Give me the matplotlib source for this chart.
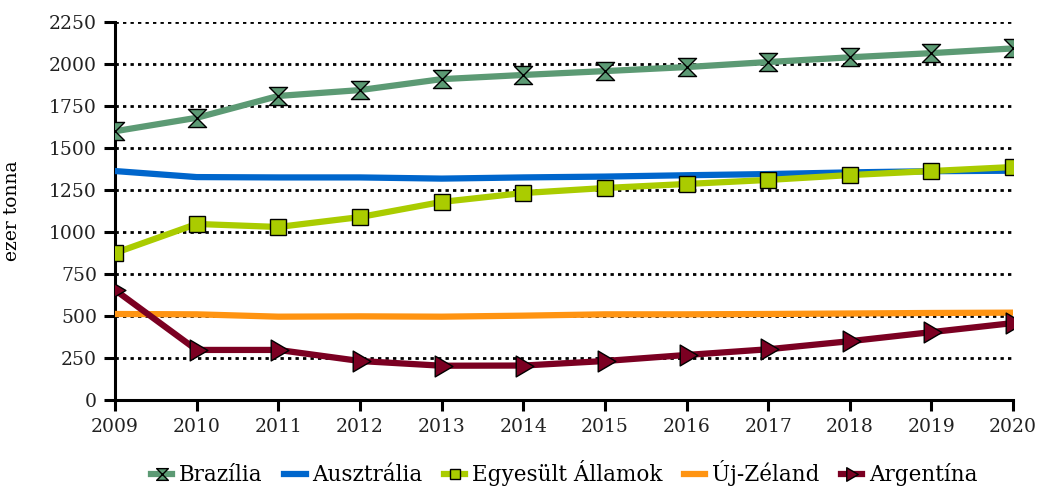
import matplotlib
matplotlib.use("Agg")
import matplotlib.pyplot as plt
from matplotlib.path import Path

years = [2009, 2010, 2011, 2012, 2013, 2014, 2015, 2016, 2017, 2018, 2019, 2020]
brazilia = [1600, 1680, 1810, 1845, 1910, 1935, 1958, 1982, 2012, 2040, 2065, 2093]
ausztralia = [1363, 1327, 1325, 1325, 1318, 1325, 1330, 1338, 1345, 1355, 1362, 1365]
egyesult = [875, 1048, 1030, 1089, 1179, 1232, 1262, 1286, 1310, 1339, 1363, 1387]
ujzeland = [512, 510, 496, 498, 496, 502, 510, 510, 512, 515, 518, 520]
argentina = [655, 298, 298, 232, 204, 205, 232, 268, 302, 350, 404, 458]

plt.rcParams['font.family'] = ['DejaVu Serif']

fig = plt.figure(figsize=(10.4, 4.9), dpi=100)
ax = fig.add_axes([0.1106, 0.1837, 0.8635, 0.7713])

hourglass = Path([(-1, 1), (1, 1), (-1, -1), (1, -1), (-1, 1)],
                 [Path.MOVETO, Path.LINETO, Path.LINETO, Path.LINETO, Path.CLOSEPOLY])
tri = Path([(-0.7, 1), (1, 0), (-0.7, -1), (-0.7, 1)],
           [Path.MOVETO, Path.LINETO, Path.LINETO, Path.CLOSEPOLY])

lw = 4.5
ax.plot(years, brazilia, color='#5C9A74', lw=lw, marker=hourglass, ms=13,
        mfc='#5C9A74', mec='black', mew=1.0, label='Brazília', zorder=5)
ax.plot(years, ausztralia, color='#0066CC', lw=lw, label='Ausztrália', zorder=4)
ax.plot(years, egyesult, color='#AACC00', lw=lw, marker='s', ms=11.5,
        mfc='#AACC00', mec='black', mew=1.0, label='Egyesült Államok', zorder=5)
ax.plot(years, ujzeland, color='#FF9412', lw=lw, label='Új-Zéland', zorder=4)
ax.plot(years, argentina, color='#7B0022', lw=lw, marker=tri, ms=15,
        mfc='#7B0022', mec='black', mew=1.0, label='Argentína', zorder=5)

ax.set_xlim(2009, 2020)
ax.set_ylim(0, 2250)
ax.set_xticks(years)
ax.set_yticks(range(0, 2251, 250))
ax.yaxis.grid(True, color='black', linestyle=(0, (1.2, 1.5)), lw=2.0)
ax.set_axisbelow(True)
for s in ['top', 'right']:
    ax.spines[s].set_visible(False)
for s in ['left', 'bottom']:
    ax.spines[s].set_linewidth(2.2)
ax.tick_params(axis='both', labelsize=13.5, width=2.2, length=8, direction='out',
               colors='black', pad=5)
ax.set_ylabel('ezer tonna', fontsize=13.5, labelpad=20)
for lab in ax.get_xticklabels() + ax.get_yticklabels():
    lab.set_color('#222222')

leg = ax.legend(loc='lower center', bbox_to_anchor=(0.5, -0.28), ncol=5, frameon=False,
                fontsize=15.5, handlelength=1.0, handletextpad=0.3, columnspacing=1.0,
                markerscale=0.65)
fig.savefig('out.png', dpi=100)
